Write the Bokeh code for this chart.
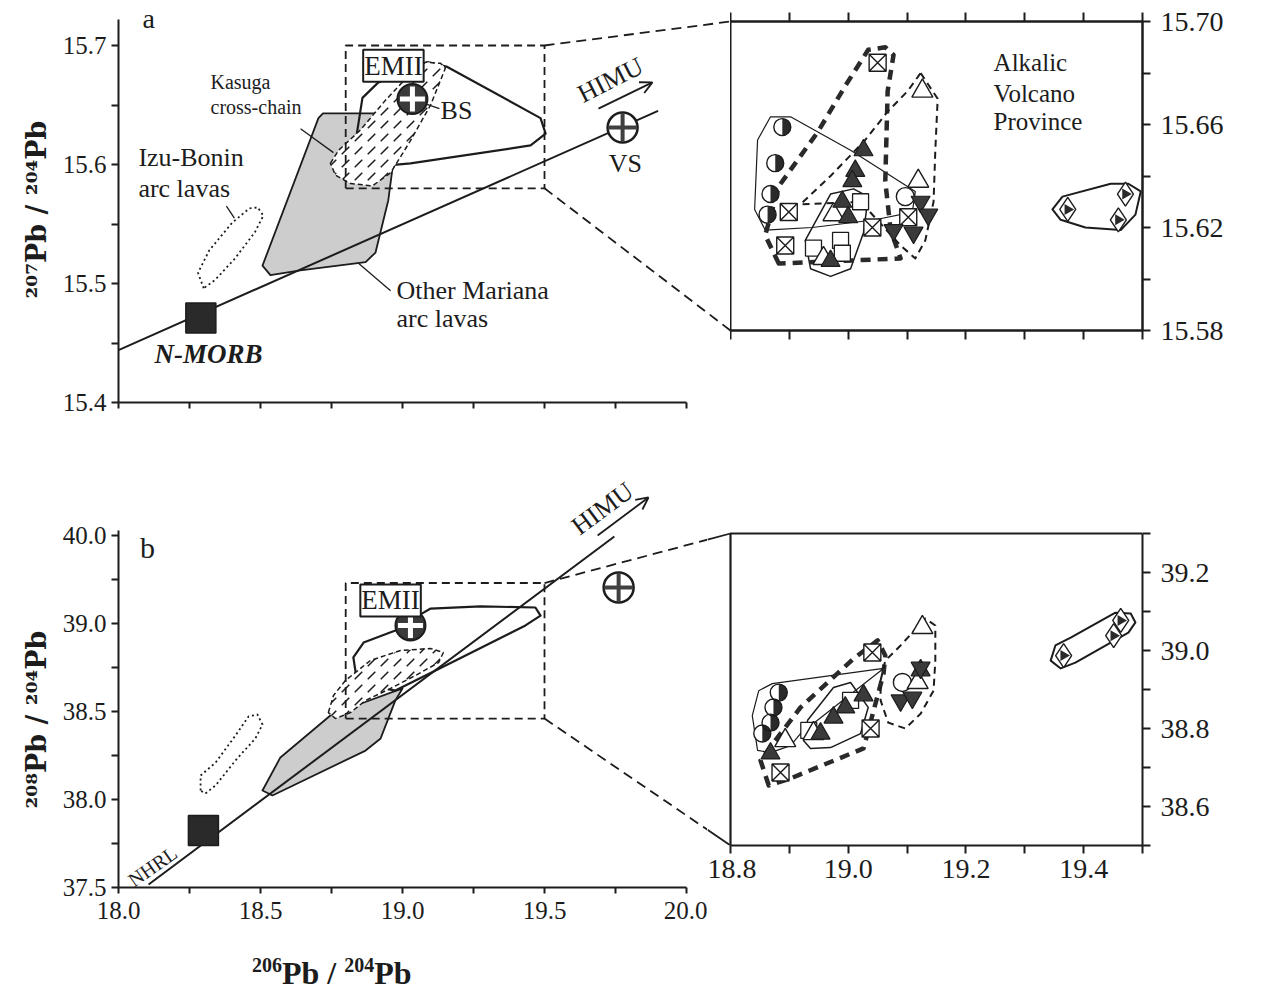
import math
from bokeh.plotting import figure
from bokeh.layouts import row, column
from bokeh.models import FixedTicker, LinearAxis, Range1d, Label, Arrow, OpenHead, Title, Div
from bokeh.core.properties import value
from bokeh.embed import file_html
from bokeh.resources import INLINE

FONT = "Liberation Serif"
TFONT = "DejaVu Serif"
INK = "#1c1c1c"
GRAY = "#cdcdcd"

# ---------------- axis ticks ----------------
a_yticks = [15.4, 15.5, 15.6, 15.7]
a_yminor = [15.45, 15.55, 15.65]
b_yticks = [37.5, 38.0, 38.5, 39.0, 39.5]
b_ylabels = ["37.5", "38.0", "38.5", "39.0", "40.0"]
b_yminor = [37.75, 38.25, 38.75, 39.25]
main_xticks = [18.0, 18.5, 19.0, 19.5, 20.0]
main_xlabels = ["18.0", "18.5", "19.0", "19.5", "20.0"]
main_xminor = [18.25, 18.75, 19.25, 19.75]
ia_yticks = [15.58, 15.62, 15.66, 15.70]
ia_ylabels = ["15.58", "15.62", "15.66", "15.70"]
ia_yminor = [15.60, 15.64, 15.68]
ib_yticks = [38.6, 38.8, 39.0, 39.2]
ib_ylabels = ["38.6", "38.8", "39.0", "39.2"]
ib_yminor = [38.5, 38.7, 38.9, 39.1, 39.3]
inset_xticks = [18.8, 19.0, 19.2, 19.4]
inset_xlabels = ["18.8", "19.0", "19.2", "19.4"]
inset_xminor = [18.9, 19.1, 19.3, 19.5]

# ---------------- panel a (207Pb/204Pb) ----------------
nhrl_a_x = [18.0, 19.90]
nhrl_a_y = [15.444, 15.645]
nmorb_a = [18.29, 15.471]
izu_a_x = [18.30, 18.28, 18.32, 18.40, 18.46, 18.49, 18.51, 18.48, 18.41, 18.34, 18.30]
izu_a_y = [15.496, 15.509, 15.528, 15.551, 15.563, 15.564, 15.557, 15.543, 15.521, 15.503, 15.496]
mariana_a_x = [18.72, 18.92, 18.98, 18.95, 18.905, 18.87, 18.64, 18.535, 18.507, 18.704]
mariana_a_y = [15.643, 15.643, 15.624, 15.570, 15.526, 15.518, 15.511, 15.507, 15.515, 15.639]
kasuga_a_x = [18.746, 18.775, 18.852, 18.94, 19.011, 19.081, 19.134, 19.151, 19.099, 19.028, 18.958, 18.894, 18.817, 18.764]
kasuga_a_y = [15.601, 15.612, 15.629, 15.654, 15.672, 15.686, 15.685, 15.681, 15.650, 15.620, 15.593, 15.582, 15.584, 15.591]
alk_a_x = [18.915, 18.859, 18.838, 18.87, 18.94, 19.028, 19.451, 19.504, 19.486, 19.158, 19.088]
alk_a_y = [15.669, 15.656, 15.624, 15.608, 15.599, 15.601, 15.616, 15.626, 15.639, 15.682, 15.686]
bs_a = [19.035, 15.655]
vs_a = [19.775, 15.631]
himu_a = [19.690, 15.647, 19.880, 15.669]
box_a_x = [18.8, 19.5]
box_a_y = [15.58, 15.70]

# ---------------- panel b (208Pb/204Pb) ----------------
nhrl_b_x = [18.106, 19.746]
nhrl_b_y = [37.517, 39.494]
nmorb_b = [18.299, 37.824]
izu_b_x = [18.289, 18.289, 18.342, 18.412, 18.458, 18.489, 18.507, 18.482, 18.412, 18.342, 18.306]
izu_b_y = [38.051, 38.136, 38.210, 38.364, 38.472, 38.483, 38.426, 38.347, 38.222, 38.080, 38.034]
mariana_b_x = [18.507, 18.57, 18.746, 18.835, 19.0, 18.975, 18.923, 18.87, 18.542]
mariana_b_y = [38.051, 38.239, 38.477, 38.534, 38.631, 38.563, 38.347, 38.278, 38.023]
kasuga_b_x = [18.739, 18.757, 18.799, 18.887, 18.993, 19.099, 19.144, 19.127, 19.046, 18.958, 18.87, 18.817, 18.764]
kasuga_b_y = [38.494, 38.591, 38.676, 38.79, 38.847, 38.858, 38.835, 38.778, 38.705, 38.631, 38.563, 38.494, 38.46]
alk_b_x = [18.975, 18.863, 18.827, 18.835, 18.887, 18.975, 19.187, 19.433, 19.486, 19.468, 19.275, 19.099, 19.056]
alk_b_y = [38.960, 38.892, 38.807, 38.722, 38.648, 38.619, 38.790, 38.989, 39.045, 39.091, 39.097, 39.085, 39.045]
bs_b = [19.028, 38.989]
vs_b = [19.761, 39.205]
himu_b = [19.687, 39.5, 19.866, 39.716]
box_b_x = [18.8, 19.5]
box_b_y = [38.46, 39.23]

# ---------------- inset a (Alkalic Volcano Province, 207/204) ----------------
ia_solid1_x = [18.868, 18.846, 18.841, 18.859, 18.939, 19.046, 19.109, 19.114, 19.004, 18.902]
ia_solid1_y = [15.663, 15.654, 15.627, 15.619, 15.620, 15.623, 15.626, 15.634, 15.650, 15.663]
ia_solid2_x = [18.927, 18.970, 19.009, 19.034, 19.026, 19.004, 18.970, 18.936]
ia_solid2_y = [15.615, 15.633, 15.635, 15.632, 15.618, 15.604, 15.601, 15.604]
ia_thick_x = [18.882, 18.859, 18.882, 18.948, 18.995, 19.034, 19.063, 19.077, 19.067, 19.063, 19.072, 19.089]
ia_thick_y = [15.606, 15.617, 15.636, 15.657, 15.675, 15.689, 15.690, 15.687, 15.673, 15.638, 15.619, 15.608]
ia_thin_x = [19.123, 19.152, 19.148, 19.145, 19.131, 19.114, 19.089, 19.021, 18.919, 18.970, 19.029, 19.067, 19.101]
ia_thin_y = [15.680, 15.670, 15.650, 15.630, 15.615, 15.608, 15.613, 15.630, 15.629, 15.640, 15.654, 15.665, 15.673]
ia_dia_x = [19.347, 19.364, 19.446, 19.476, 19.497, 19.488, 19.463, 19.403, 19.361]
ia_dia_y = [15.627, 15.632, 15.637, 15.637, 15.634, 15.625, 15.619, 15.620, 15.623]
ia_hcirc_x = [18.888, 18.876, 18.868, 18.863]
ia_hcirc_y = [15.659, 15.645, 15.633, 15.625]
ia_sqx_x = [18.899, 18.893, 19.050, 19.041, 19.102]
ia_sqx_y = [15.626, 15.613, 15.684, 15.620, 15.624]
ia_tri_x = [19.126, 19.119, 18.975, 18.958]
ia_tri_y = [15.673, 15.638, 15.625, 15.608]
ia_ftri_x = [19.026, 19.012, 19.007, 18.990, 19.000, 18.970]
ia_ftri_y = [15.650, 15.642, 15.638, 15.630, 15.624, 15.607]
ia_itri_x = [19.123, 19.111, 19.136, 19.077]
ia_itri_y = [15.630, 15.618, 15.625, 15.619]
ia_sq_x = [18.941, 18.987, 18.990, 19.021]
ia_sq_y = [15.612, 15.615, 15.610, 15.630]
ia_circ_x = [19.097]
ia_circ_y = [15.632]
ia_hdia_x = [19.373, 19.471, 19.459]
ia_hdia_y = [15.627, 15.633, 15.623]

# ---------------- inset b (208/204) ----------------
ib_solid1_x = [18.846, 18.837, 18.848, 18.871, 19.060, 18.919, 18.902, 18.868]
ib_solid1_y = [38.744, 38.833, 38.897, 38.915, 38.954, 38.787, 38.756, 38.738]
ib_solid2_x = [18.924, 18.931, 18.975, 19.004, 19.034, 19.021, 18.970, 18.936]
ib_solid2_y = [38.769, 38.821, 38.905, 38.918, 38.854, 38.787, 38.751, 38.749]
ib_thick_x = [18.865, 18.851, 18.876, 18.919, 19.009, 19.050, 19.063, 19.060, 19.026, 18.902]
ib_thick_y = [38.654, 38.718, 38.769, 38.854, 38.979, 39.026, 38.987, 38.941, 38.749, 38.672]
ib_thin_x = [19.055, 19.063, 19.089, 19.131, 19.148, 19.148, 19.145, 19.123, 19.097, 19.068, 19.055]
ib_thin_y = [38.923, 38.974, 39.013, 39.082, 39.064, 38.974, 38.897, 38.838, 38.800, 38.815, 38.872]
ib_dia_x = [19.344, 19.352, 19.378, 19.454, 19.480, 19.488, 19.476, 19.386, 19.361]
ib_dia_y = [38.974, 39.013, 39.033, 39.097, 39.095, 39.072, 39.046, 38.969, 38.954]
ib_hcirc_x = [18.882, 18.873, 18.868, 18.854]
ib_hcirc_y = [38.892, 38.854, 38.815, 38.787]
ib_sqx_x = [18.885, 19.041, 19.038]
ib_sqx_y = [38.687, 38.995, 38.800]
ib_tri_x = [19.126, 18.893, 19.118, 18.941]
ib_tri_y = [39.059, 38.769, 38.918, 38.787]
ib_ftri_x = [19.026, 18.995, 18.975, 18.953, 18.868, 19.123]
ib_ftri_y = [38.885, 38.854, 38.828, 38.787, 38.736, 38.949]
ib_itri_x = [19.123, 19.089, 19.109]
ib_itri_y = [38.956, 38.872, 38.879]
ib_sq_x = [18.933, 19.004]
ib_sq_y = [38.795, 38.872]
ib_circ_x = [19.092]
ib_circ_y = [38.918]
ib_hdia_x = [19.366, 19.463, 19.451]
ib_hdia_y = [38.987, 39.077, 39.038]

# ---------------- layout geometry (page pixels) ----------------
MAIN_L = 118
PX_X = 284.0
A_BOT, A_PY = 402, 1190.0
B_BOT, B_PY = 887, 176.0
INS_L, INS_R = 730, 1142
INS_PX = (INS_R - INS_L) / 0.7
C_TOP, C_BOT = 21, 330
C_PY = (C_BOT - C_TOP) / 0.12
D_BOT, D_PY = 845, 390.0
ROW1 = 460
ROW2 = 480
TITLE_H = 991 - ROW1 - ROW2
SPLIT = 707


def make_fig(w, h, xr, yr, bl, br, bt, bb, xloc, yloc):
    p = figure(width=w, height=h, x_range=Range1d(*xr), y_range=Range1d(*yr),
               x_axis_location=xloc, y_axis_location=yloc,
               toolbar_location=None, output_backend="svg",
               min_border_left=bl, min_border_right=br,
               min_border_top=bt, min_border_bottom=bb, frame_align=False)
    p.grid.visible = False
    p.outline_line_color = None
    p.background_fill_color = "white"
    p.border_fill_color = "white"
    return p


def style_axis(ax, ticks, minor, labels=None, size="25px", bounds=None, tick=7):
    ax.ticker = FixedTicker(ticks=ticks, minor_ticks=minor)
    ax.axis_line_width = 2
    ax.axis_line_color = INK
    ax.major_tick_line_width = 2
    ax.major_tick_line_color = INK
    ax.minor_tick_line_width = 2
    ax.minor_tick_line_color = INK
    ax.major_tick_in = 0
    ax.major_tick_out = tick
    ax.minor_tick_in = 0
    ax.minor_tick_out = tick
    ax.major_label_text_font = FONT
    ax.major_label_text_font_size = size
    ax.major_label_text_color = INK
    ax.major_label_standoff = 5
    if labels is not None:
        ax.major_label_overrides = {t: l for t, l in zip(ticks, labels)}
    if bounds is not None:
        ax.bounds = bounds


def axis_title(p, text, side, offset, standoff):
    p.add_layout(Title(text=text, text_font=TFONT, text_font_style="bold",
                       text_font_size="27px", text_color=INK, align="left",
                       offset=offset, standoff=standoff), side)


def txt(p, xs, ys, texts, size, align="left", style="normal", angle=0.0):
    p.text(x=xs, y=ys, text=texts, text_font=value(FONT), text_font_size=value(size),
           text_font_style=style, text_color=INK, text_align=align,
           text_baseline="middle", angle=angle)


def bs_symbol(p, pt):
    p.scatter([pt[0]], [pt[1]], marker="circle", size=30, fill_color="#3a3a3a",
              line_color=INK, line_width=2)
    p.scatter([pt[0]], [pt[1]], marker="cross", size=25, line_color="white", line_width=5)


def vs_symbol(p, pt):
    p.scatter([pt[0]], [pt[1]], marker="circle", size=30, fill_color="white",
              line_color=INK, line_width=2.5)
    p.scatter([pt[0]], [pt[1]], marker="cross", size=29, line_color="#404040", line_width=4)


def box(p, bx, by):
    p.line([bx[0], bx[1], bx[1], bx[0], bx[0]], [by[0], by[0], by[1], by[1], by[0]],
           line_color=INK, line_width=1.8, line_dash="8 5")


def emii(p, x, y):
    p.add_layout(Label(x=x, y=y, text="EMII", text_font=FONT, text_font_size="27px",
                       text_color=INK, text_align="center", text_baseline="middle",
                       background_fill_color="white", border_line_color=INK,
                       border_line_width=2, padding=1))


def main_regions(p, mx, my, ix, iy, kx, ky, ax_, ay_, nx, ny, nm, hatch):
    p.patch(mx, my, fill_color=GRAY, line_color=INK, line_width=1.8, line_join="round")
    p.line(nx, ny, line_color=INK, line_width=2)
    p.patch(ix, iy, fill_alpha=0, line_color=INK, line_width=1.8, line_dash="2 3")
    p.patch(ax_, ay_, fill_alpha=0, line_color=INK, line_width=2.2, line_join="round")
    p.patch(kx, ky, fill_color="white", line_color=INK, line_width=1.5, line_dash="5 3",
            hatch_pattern=hatch, hatch_color=INK, hatch_scale=13, hatch_weight=1.5)
    p.scatter([nm[0]], [nm[1]], marker="square", size=30, fill_color="#2a2a2a",
              line_color=INK, line_width=1.5)


def inset_content(p, d):
    p.patch(d["s1x"], d["s1y"], fill_alpha=0, line_color=INK, line_width=1.2, line_join="round")
    p.patch(d["s2x"], d["s2y"], fill_alpha=0, line_color=INK, line_width=1.5, line_join="round")
    p.patch(d["thx"], d["thy"], fill_alpha=0, line_color="#2a2a2a", line_width=4.5,
            line_dash="10 7", line_join="round")
    p.patch(d["tnx"], d["tny"], fill_alpha=0, line_color=INK, line_width=2,
            line_dash="7 5", line_join="round")
    p.patch(d["dx"], d["dy"], fill_alpha=0, line_color=INK, line_width=2, line_join="round")
    p.scatter(d["sqx"], d["sqy"], marker="square", size=16, fill_color="white",
              line_color=INK, line_width=1.3)
    p.scatter(d["sqxx"], d["sqxy"], marker="square_x", size=17, fill_color="white",
              line_color=INK, line_width=1.4)
    p.scatter(d["cx"], d["cy"], marker="circle", size=18, fill_color="white",
              line_color=INK, line_width=1.4)
    p.scatter(d["tx"], d["ty"], marker="triangle", size=21, fill_color="white",
              line_color=INK, line_width=1.4)
    p.scatter(d["ftx"], d["fty"], marker="triangle", size=19, fill_color="#3a3a3a",
              line_color=INK, line_width=1.2)
    p.scatter(d["itx"], d["ity"], marker="inverted_triangle", size=19, fill_color="#3a3a3a",
              line_color=INK, line_width=1.2)
    p.scatter(d["hcx"], d["hcy"], marker="circle", size=17, fill_color="white", line_color=None)
    p.wedge(d["hcx"], d["hcy"], radius=8.5, radius_units="screen",
            start_angle=-math.pi / 2, end_angle=math.pi / 2,
            fill_color="#2a2a2a", line_color=None)
    p.scatter(d["hcx"], d["hcy"], marker="circle", size=17, fill_alpha=0,
              line_color=INK, line_width=1.4)
    p.scatter(d["hdx"], d["hdy"], marker="diamond", size=24, fill_color="white",
              line_color=INK, line_width=1.4)
    p.scatter(d["hdx"], d["hdy"], marker="triangle", angle=-math.pi / 2, size=11,
              fill_color="#2a2a2a", line_color=None)


# ================= panel a =================
pa = make_fig(INS_L, ROW1, (18.0, 18.0 + (INS_L - MAIN_L) / PX_X),
              (15.4, 15.4 + A_BOT / A_PY), MAIN_L, 0, 0, ROW1 - A_BOT, "below", "left")
style_axis(pa.xaxis[0], [], sorted(main_xticks + main_xminor), bounds=(18.0, 20.0), tick=6)
style_axis(pa.yaxis[0], a_yticks, a_yminor, ["15.4", "15.5", "15.6", "15.7"], bounds=(15.4, 15.722))
axis_title(pa, "²⁰⁷Pb / ²⁰⁴Pb", "left", 104, 16)

main_regions(pa, mariana_a_x, mariana_a_y, izu_a_x, izu_a_y, kasuga_a_x, kasuga_a_y,
             alk_a_x, alk_a_y, nhrl_a_x, nhrl_a_y, nmorb_a, "right_diagonal_dash")
box(pa, box_a_x, box_a_y)


def a_data(px, py):
    return 18.0 + (px - MAIN_L) / PX_X, 15.4 + (A_BOT - py) / A_PY


def c_px(x, y):
    return INS_L + (x - 18.8) * INS_PX, C_BOT - (y - 15.58) * C_PY


for by, iy in [(box_a_y[1], 15.70), (box_a_y[0], 15.58)]:
    ex, ey = a_data(*c_px(18.8, iy))
    pa.line([box_a_x[1], ex], [by, ey], line_color=INK, line_width=1.8, line_dash="10 6")

# leader lines
pa.line([18.641, 18.757], [15.630, 15.610], line_color=INK, line_width=1.3)
pa.line([18.380, 18.408], [15.565, 15.555], line_color=INK, line_width=1.3)
pa.line([18.845, 18.958], [15.517, 15.494], line_color=INK, line_width=1.3)
pa.line([19.081, 19.130], [15.651, 15.647], line_color=INK, line_width=1.3)
bs_symbol(pa, bs_a)
vs_symbol(pa, vs_a)
pa.add_layout(Arrow(end=OpenHead(size=12, line_color=INK, line_width=1.8),
                    x_start=himu_a[0], y_start=himu_a[1], x_end=himu_a[2], y_end=himu_a[3],
                    line_color=INK, line_width=1.8))
txt(pa, [19.732], [15.671], ["HIMU"], "26px", align="center", angle=0.47)
txt(pa, [18.106], [15.723], ["a"], "28px", align="center")
txt(pa, [18.324, 18.324], [15.669, 15.648], ["Kasuga", "cross-chain"], "20px")
txt(pa, [18.070, 18.070], [15.606, 15.580], ["Izu-Bonin", "arc lavas"], "26px")
txt(pa, [18.979, 18.979], [15.494, 15.471], ["Other Mariana", "arc lavas"], "26px")
txt(pa, [18.317], [15.441], ["N-MORB"], "27px", align="center", style="bold italic")
txt(pa, [19.134], [15.645], ["BS"], "26px")
txt(pa, [19.785], [15.601], ["VS"], "26px", align="center")
emii(pa, 18.968, 15.683)

# ================= inset a =================
pc = make_fig(1268 - INS_L, ROW1, (18.8, 19.5), (15.58, 15.70), 0, 1268 - INS_R, C_TOP,
              ROW1 - C_BOT, "below", "right")
pc.outline_line_color = INK
pc.outline_line_width = 2
inset_all = sorted(inset_xticks + inset_xminor)
style_axis(pc.xaxis[0], [], inset_all, tick=9)
top_ax = LinearAxis()
pc.add_layout(top_ax, "above")
style_axis(top_ax, [], inset_all, tick=9)
style_axis(pc.yaxis[0], ia_yticks, ia_yminor, ia_ylabels, size="28px", tick=8)
pc.yaxis[0].major_label_standoff = 10
inset_content(pc, dict(s1x=ia_solid1_x, s1y=ia_solid1_y, s2x=ia_solid2_x, s2y=ia_solid2_y,
                       thx=ia_thick_x, thy=ia_thick_y, tnx=ia_thin_x, tny=ia_thin_y,
                       dx=ia_dia_x, dy=ia_dia_y, sqx=ia_sq_x, sqy=ia_sq_y,
                       sqxx=ia_sqx_x, sqxy=ia_sqx_y, cx=ia_circ_x, cy=ia_circ_y,
                       tx=ia_tri_x, ty=ia_tri_y, ftx=ia_ftri_x, fty=ia_ftri_y,
                       itx=ia_itri_x, ity=ia_itri_y, hcx=ia_hcirc_x, hcy=ia_hcirc_y,
                       hdx=ia_hdia_x, hdy=ia_hdia_y))
txt(pc, [19.247, 19.247, 19.247], [15.684, 15.672, 15.661],
    ["Alkalic", "Volcano", "Province"], "25px")

# ================= panel b =================
pb = make_fig(SPLIT, ROW2, (18.0, 18.0 + (SPLIT - MAIN_L) / PX_X),
              (37.5, 37.5 + (B_BOT - ROW1) / B_PY), MAIN_L, 0, 0, ROW1 + ROW2 - B_BOT,
              "below", "left")
style_axis(pb.xaxis[0], main_xticks, main_xminor, main_xlabels, bounds=(18.0, 20.0), tick=6)
pb.xaxis[0].major_label_standoff = 8
style_axis(pb.yaxis[0], b_yticks, b_yminor, b_ylabels, bounds=(37.5, 39.53))
axis_title(pb, "²⁰⁸Pb / ²⁰⁴Pb", "left", 79, 16)

main_regions(pb, mariana_b_x, mariana_b_y, izu_b_x, izu_b_y, kasuga_b_x, kasuga_b_y,
             alk_b_x, alk_b_y, nhrl_b_x, nhrl_b_y, nmorb_b, "right_diagonal_dash")
box(pb, box_b_x, box_b_y)
bs_symbol(pb, bs_b)
vs_symbol(pb, vs_b)
pb.add_layout(Arrow(end=OpenHead(size=12, line_color=INK, line_width=1.8),
                    x_start=himu_b[0], y_start=himu_b[1], x_end=himu_b[2], y_end=himu_b[3],
                    line_color=INK, line_width=1.8))
txt(pb, [19.704], [39.653], ["HIMU"], "26px", align="center", angle=0.64)
txt(pb, [18.12], [37.62], ["NHRL"], "20px", align="center", angle=0.61)
txt(pb, [18.102], [39.432], ["b"], "30px", align="center")
emii(pb, 18.958, 39.131)

# ================= inset b =================
D_W = 1268 - SPLIT
D_FRAME = INS_R - SPLIT
pd = make_fig(D_W, ROW2, (19.5 - D_FRAME / INS_PX, 19.5),
              (38.5, 38.5 + (D_BOT - 530) / D_PY), 0, D_W - D_FRAME, 530 - ROW1,
              ROW1 + ROW2 - D_BOT, "below", "right")
style_axis(pd.xaxis[0], inset_xticks, inset_xminor, inset_xlabels, size="28px",
           bounds=(18.8, 19.5), tick=8)
pd.xaxis[0].major_label_standoff = 6
style_axis(pd.yaxis[0], ib_yticks, ib_yminor, ib_ylabels, size="28px", bounds=(38.5, 39.3), tick=8)
pd.yaxis[0].major_label_standoff = 10
pd.line([18.8, 18.8, 19.5], [38.5, 39.3, 39.3], line_color=INK, line_width=2.2)
inset_content(pd, dict(s1x=ib_solid1_x, s1y=ib_solid1_y, s2x=ib_solid2_x, s2y=ib_solid2_y,
                       thx=ib_thick_x, thy=ib_thick_y, tnx=ib_thin_x, tny=ib_thin_y,
                       dx=ib_dia_x, dy=ib_dia_y, sqx=ib_sq_x, sqy=ib_sq_y,
                       sqxx=ib_sqx_x, sqxy=ib_sqx_y, cx=ib_circ_x, cy=ib_circ_y,
                       tx=ib_tri_x, ty=ib_tri_y, ftx=ib_ftri_x, fty=ib_ftri_y,
                       itx=ib_itri_x, ity=ib_itri_y, hcx=ib_hcirc_x, hcy=ib_hcirc_y,
                       hdx=ib_hdia_x, hdy=ib_hdia_y))


def b_px(x, y):
    return MAIN_L + (x - 18.0) * PX_X, B_BOT - (y - 37.5) * B_PY


def b_data(px, py):
    return 18.0 + (px - MAIN_L) / PX_X, 37.5 + (B_BOT - py) / B_PY


def d_px(x, y):
    return INS_L + (x - 18.8) * INS_PX, D_BOT - (y - 38.5) * D_PY


def d_data(px, py):
    return 18.8 + (px - INS_L) / INS_PX, 38.5 + (D_BOT - py) / D_PY


for by, iy in [(box_b_y[1], 39.3), (box_b_y[0], 38.5)]:
    sx, sy = b_px(box_b_x[1], by)
    ex, ey = d_px(18.8, iy)
    t = (SPLIT - sx) / (ex - sx)
    my = sy + t * (ey - sy)
    mbx, mby = b_data(SPLIT, my)
    pb.line([box_b_x[1], mbx], [by, mby], line_color=INK, line_width=1.8, line_dash="10 6")
    mdx, mdy = d_data(SPLIT, my)
    pd.line([mdx, 18.8], [mdy, iy], line_color=INK, line_width=1.8)

# x-axis title of panel b (sits left of the frame centre, as in the original)
sup = "font-size:20px;position:relative;top:-12px"
xtitle = Div(
    text=("<div style=\"margin-left:252px;margin-top:17px;line-height:1;white-space:nowrap;"
          "font-family:'Liberation Serif';font-weight:bold;font-size:32px;color:%s\">"
          "<span style=\"%s\">206</span>Pb / <span style=\"%s\">204</span>Pb</div>")
         % (INK, sup, sup),
    width=1268, height=TITLE_H, margin=(0, 0, 0, 0))

layout = column(row(pa, pc), row(pb, pd), xtitle)
open("out.html", "w").write(file_html(layout, INLINE))
